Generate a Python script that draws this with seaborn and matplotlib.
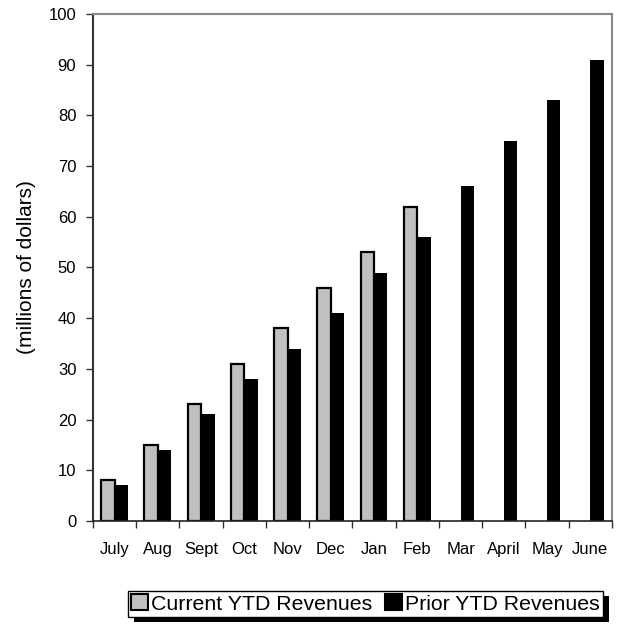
import numpy as np
import pandas as pd
import matplotlib
matplotlib.use("Agg")
import matplotlib.pyplot as plt
from matplotlib.patches import Rectangle, Patch
import seaborn as sns

months = ["July", "Aug", "Sept", "Oct", "Nov", "Dec", "Jan", "Feb", "Mar", "April", "May", "June"]
current_ytd = [8, 15, 23, 31, 38, 46, 53, 62, np.nan, np.nan, np.nan, np.nan]
prior_ytd = [7, 14, 21, 28, 34, 41, 49, 56, 66, 75, 83, 91]
series_names = ["Current YTD Revenues", "Prior YTD Revenues"]
y_ticks = [0, 10, 20, 30, 40, 50, 60, 70, 80, 90, 100]

df = pd.DataFrame({
    "month": months * 2,
    "series": [series_names[0]] * len(months) + [series_names[1]] * len(months),
    "value": current_ytd + prior_ytd,
})

sns.set_style("white")
plt.rcParams["font.family"] = ["Liberation Sans", "DejaVu Sans"]
plt.rcParams["text.color"] = "black"
plt.rcParams["axes.labelcolor"] = "black"
plt.rcParams["xtick.color"] = "black"
plt.rcParams["ytick.color"] = "black"

fig = plt.figure(figsize=(6.2, 6.33), dpi=100)
ax = fig.add_axes([0.150, 0.177, 0.837, 0.801])

palette = {series_names[0]: "#c0c0c0", series_names[1]: "#000000"}
sns.barplot(data=df, x="month", y="value", hue="series", order=months,
            hue_order=series_names, palette=palette, width=0.62,
            saturation=1, legend=False, ax=ax)

# gray bars get a black outline; black bars have none
for bar in ax.patches:
    fc = bar.get_facecolor()
    if fc[0] > 0.5:
        bar.set_edgecolor("black")
        bar.set_linewidth(1.6)
    else:
        bar.set_linewidth(0)

ax.set_xlim(-0.5, len(months) - 0.5)
ax.set_ylim(0, 100)
ax.set_yticks(y_ticks)
ax.set_yticklabels([str(t) for t in y_ticks], fontsize=12)
ax.set_xticks(range(len(months)))
ax.set_xticklabels(months, fontsize=12)
ax.set_xticks(np.arange(-0.5, len(months)), minor=True)
ax.tick_params(axis="x", which="major", bottom=True, length=0, pad=15)
ax.tick_params(axis="x", which="minor", bottom=True, length=5, width=1,
               color="#333333", direction="out")
ax.tick_params(axis="y", left=True, length=5, width=1, color="#333333",
               direction="out", pad=7)
ax.set_xlabel("")
ax.set_ylabel("(millions of dollars)", fontsize=15, labelpad=9)

for side in ["top", "right"]:
    ax.spines[side].set_color("#888888")
    ax.spines[side].set_linewidth(1.5)
ax.spines["left"].set_color("#333333")
ax.spines["left"].set_linewidth(1.5)
ax.spines["bottom"].set_color("#222222")
ax.spines["bottom"].set_linewidth(1.2)
for s in ax.spines.values():
    s.set_visible(True)

handles = [Patch(facecolor=palette[n], edgecolor="black", linewidth=1.5) for n in series_names]
leg = fig.legend(handles, series_names, loc="center", bbox_to_anchor=(0.5895, 0.046),
                 ncol=2, frameon=True, fancybox=False, edgecolor="black",
                 facecolor="white", framealpha=1,
                 fontsize=15.3, handlelength=0.8, handleheight=0.8, handletextpad=0.15,
                 columnspacing=0.6, borderpad=0.15, borderaxespad=0)
leg.get_frame().set_linewidth(1.0)

# solid drop shadow behind the legend box
fig.canvas.draw()
bb = leg.get_window_extent()
shadow = Rectangle((bb.x0 + 6, bb.y0 - 5), bb.width, bb.height,
                   transform=None, facecolor="black", edgecolor="none", zorder=1)
fig.patches.append(shadow)
leg.set_zorder(5)

fig.savefig("out.png", dpi=100)
